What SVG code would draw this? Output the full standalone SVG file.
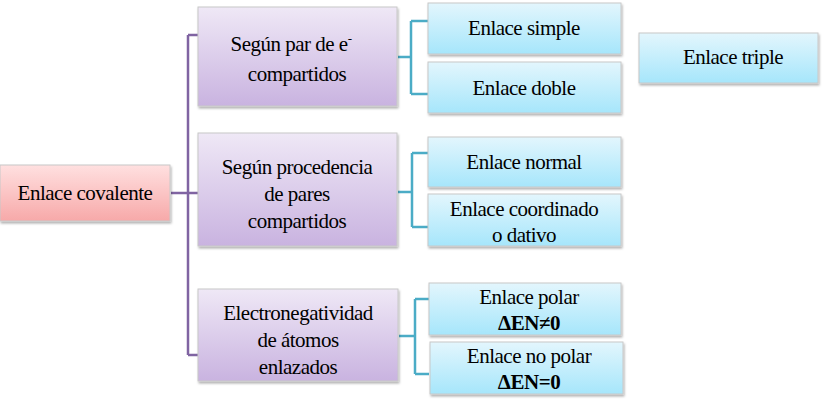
<svg xmlns="http://www.w3.org/2000/svg" width="833" height="400" viewBox="0 0 833 400">
<defs>
<linearGradient id="gr" x1="0" y1="0" x2="0" y2="1"><stop offset="0" stop-color="#ffe0e0"/><stop offset="1" stop-color="#f7a9a9"/></linearGradient>
<linearGradient id="gp" x1="0" y1="0" x2="0" y2="1"><stop offset="0" stop-color="#efe8f6"/><stop offset="1" stop-color="#c9b3e0"/></linearGradient>
<linearGradient id="gb" x1="0" y1="0" x2="0" y2="1"><stop offset="0" stop-color="#e3f6fd"/><stop offset="1" stop-color="#a6e6fb"/></linearGradient>
<filter id="sh" x="-5%" y="-5%" width="115%" height="125%"><feDropShadow dx="1" dy="2" stdDeviation="1" flood-color="#000" flood-opacity="0.3"/></filter>
</defs>
<style>
rect{stroke:#c8c8c8;stroke-width:1;filter:url(#sh)}
.r{fill:url(#gr)} .p{fill:url(#gp)} .b{fill:url(#gb)}
text{font-family:"Liberation Serif",serif;font-size:21px;fill:#000;text-anchor:middle;letter-spacing:-0.5px}
.pl{fill:none;stroke:#8064a2;stroke-width:2.5}
.tl{fill:none;stroke:#4bacc6;stroke-width:2.5}
</style>
<g id="connectors">
<path class="pl" d="M171 193H188M188 35V355M188 35H198M188 193H198M188 355H198"/>
<path class="tl" d="M398 57H411M411 21V94M411 21H428M411 94H428"/>
<path class="tl" d="M398 192H412M412 153V227M412 153H428M412 227H428"/>
<path class="tl" d="M399 336H415M415 299V374M415 299H429M415 374H429"/>
</g>
<g id="root"><rect class="r" x="0" y="165" width="170" height="56"/><text x="85" y="200">Enlace covalente</text></g>
<g id="n1"><rect class="p" x="198" y="7" width="199" height="99"/><text x="291" y="51">Según par de e<tspan dy="-8" font-size="13">-</tspan></text><text x="297" y="81">compartidos</text></g>
<g id="n2"><rect class="p" x="198" y="133" width="199" height="113"/><text x="297" y="174">Según procedencia</text><text x="297" y="201">de pares</text><text x="297" y="228">compartidos</text></g>
<g id="n3"><rect class="p" x="198" y="289" width="200" height="92"/><text x="298" y="320">Electronegatividad</text><text x="298" y="347">de átomos</text><text x="298" y="374">enlazados</text></g>
<g id="s1"><rect class="b" x="428" y="3" width="193" height="51"/><text x="524" y="35">Enlace simple</text></g>
<g id="s2"><rect class="b" x="428" y="62" width="193" height="51"/><text x="524" y="95">Enlace doble</text></g>
<g id="s3"><rect class="b" x="639" y="33" width="179" height="50"/><text x="733" y="64">Enlace triple</text></g>
<g id="s4"><rect class="b" x="428" y="137" width="193" height="50"/><text x="524" y="169">Enlace normal</text></g>
<g id="s5"><rect class="b" x="428" y="194" width="193" height="52"/><text x="524" y="216">Enlace coordinado</text><text x="524" y="242">o dativo</text></g>
<g id="s6"><rect class="b" x="429" y="283" width="192" height="52"/><text x="529" y="304">Enlace polar</text><text x="529" y="330" font-weight="bold" letter-spacing="-2">ΔEN≠0</text></g>
<g id="s7"><rect class="b" x="430" y="342" width="193" height="52"/><text x="529" y="363">Enlace no polar</text><text x="529" y="389" font-weight="bold" letter-spacing="-2">ΔEN=0</text></g>
</svg>
